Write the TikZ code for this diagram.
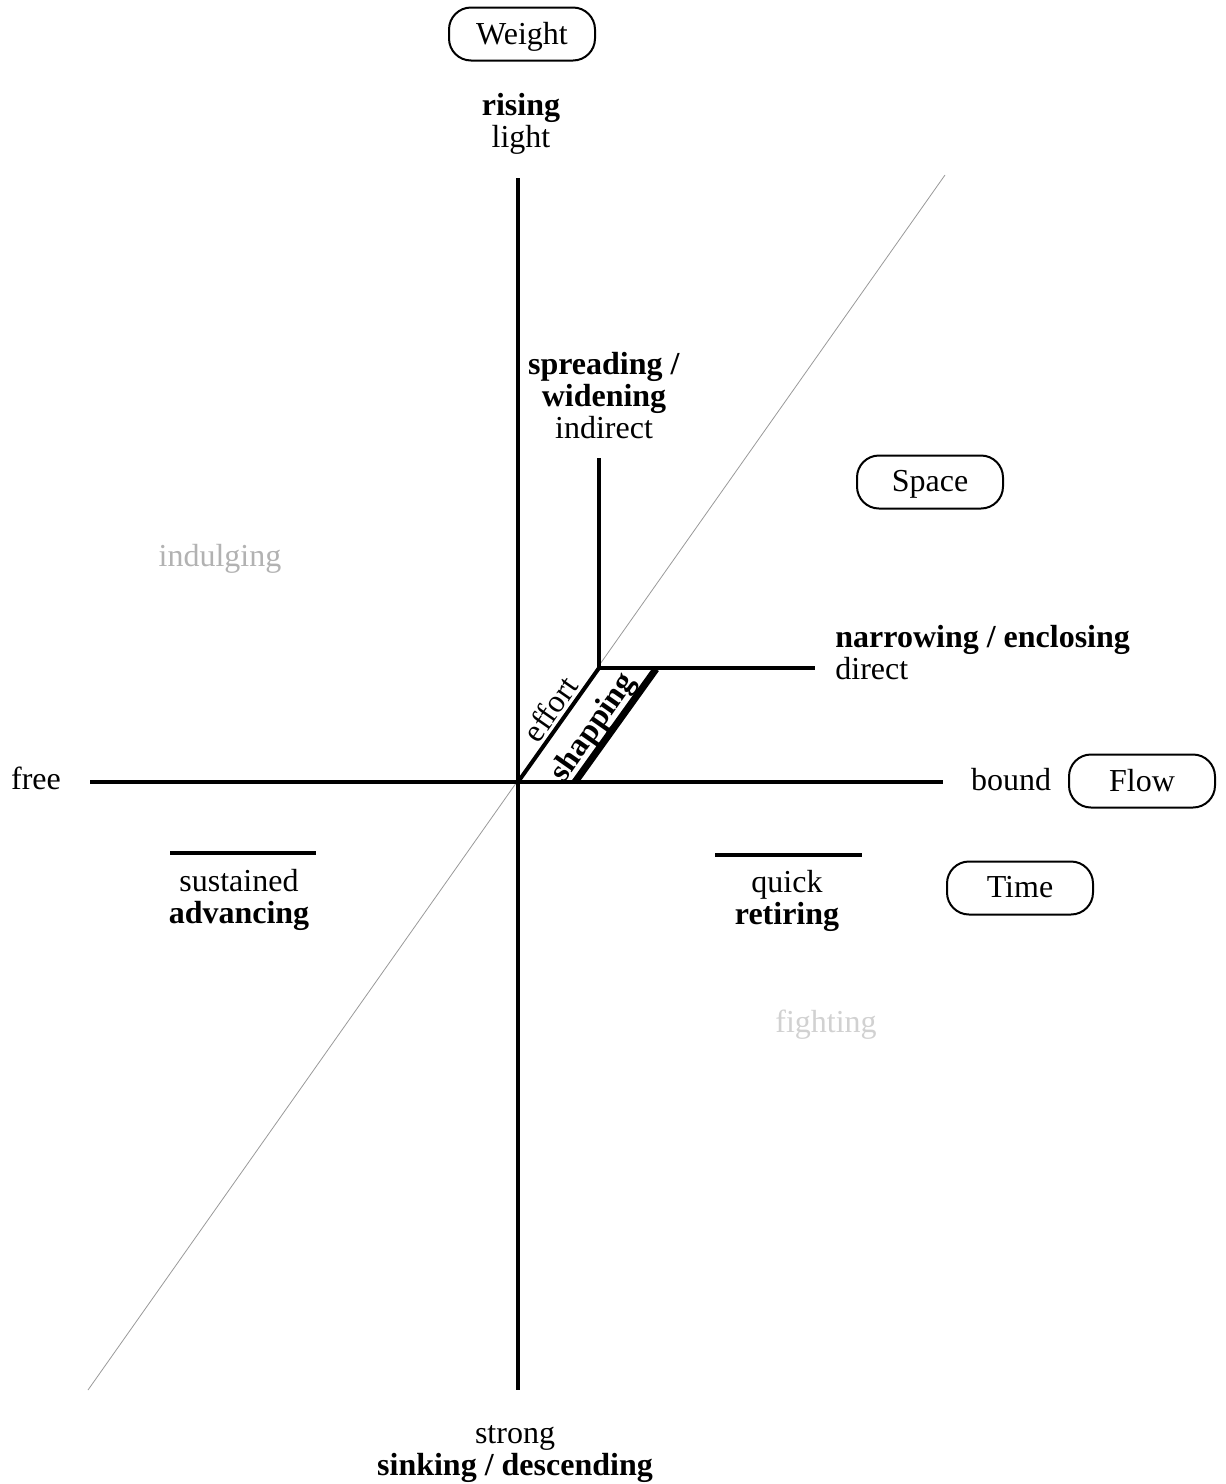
\documentclass[tikz,border=0pt]{standalone}
\usepackage{fontspec}
\setmainfont{Liberation Serif}
\usetikzlibrary{calc}

\begin{document}
\begin{tikzpicture}[x=0.5pt, y=-0.5pt,
		every node/.style={font=\fontsize{16}{16}\selectfont, inner sep=0pt, align=center},
		factor/.style={draw, line width=1pt, rounded corners=11pt, minimum width=73pt, minimum height=26.5pt, text depth=1pt},
		axis/.style={line width=2pt},
		faded/.style={color=black!#1}]
			\useasboundingbox (0, 0) rectangle (1226, 1484);
			%%%%% START %%%%%
			
			\coordinate (O) at (518, 782);
			\coordinate (top) at (518, 178);
			\coordinate (bottom) at (518, 1390);
			\coordinate (left) at (90, 782);
			\coordinate (right) at (943, 782);
			\coordinate (diagLow) at (88, 1390);
			\coordinate (diagHigh) at (945, 175);
			
			\draw[line width=0.4pt, color=black!40] (diagLow) -- (diagHigh);
			\draw[axis] (top) -- (bottom);
			\draw[axis] (left) -- (right);
			
			\node[factor] (weight) at (522, 34) {Weight};
			\node[factor] (space) at (930, 482) {Space};
			\node[factor] (flow) at (1142, 781) {Flow};
			\node[factor] (time) at (1020, 888) {Time};
			
			\node (rising) at (521, 124) {\textbf{rising}\\light};
			\node (sinking) at (515, 1454) {strong\\\textbf{sinking / descending}};
			\node (free) at (36, 778) {free};
			\node (bound) at (1011, 780) {bound};
			\node (spreading) at (604, 396) {\textbf{spreading /}\\\textbf{widening}\\indirect};
			\node[anchor=west, align=left] (narrowing) at (835, 653) {\textbf{narrowing / enclosing}\\direct};
			\node (sustained) at (239, 900) {sustained\\\textbf{advancing}};
			\node (quick) at (787, 901) {quick\\\textbf{retiring}};
			\node[faded=30] (indulging) at (220, 559) {indulging};
			\node[faded=18] (fighting) at (826, 1025) {fighting};
			
			% the short time bars
			\draw[axis] (170, 853) -- (316, 853);
			\draw[axis] (715, 855) -- (862, 855);
			
			% effort / shapping corner
			\coordinate (corner) at (599, 668);
			\draw[axis] (corner) -- (599, 458);
			\draw[axis] (corner) -- (815, 668);
			\draw[axis] (O) -- (corner);
			\draw[line width=3.5pt] (575, 782) -- (656, 669);
			
			\node[rotate=55] (effort) at (550, 709) {effort};
			\node[rotate=55] (shapping) at (594, 728) {\textbf{shapping}};
			
			%%%%% END %%%%%
\end{tikzpicture}
\end{document}
